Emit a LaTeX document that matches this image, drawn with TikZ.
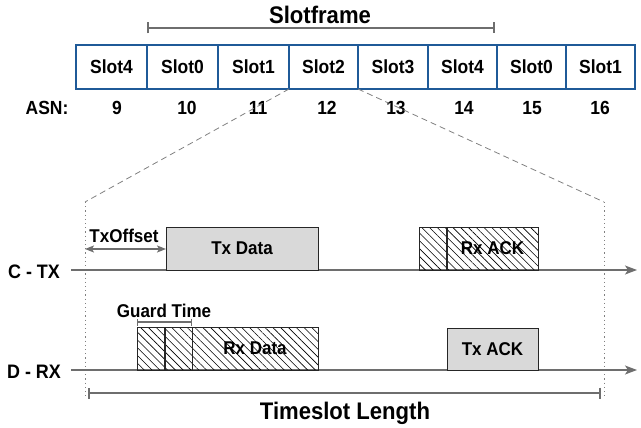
\documentclass[tikz,border=0pt]{standalone}
\usepackage{fontspec}
\setmainfont{Liberation Sans}[FakeStretch=0.92]
\usetikzlibrary{arrows.meta,patterns.meta}
\definecolor{slotblue}{RGB}{31,90,152}
\definecolor{boxgray}{RGB}{217,217,217}
\definecolor{axisgray}{RGB}{110,110,110}
\begin{document}
\begin{tikzpicture}[x=1pt,y=-1pt,
  lbl/.style={font=\bfseries\fontsize{18.5}{18.5}\selectfont, inner sep=0pt},
  numlbl/.style={font=\bfseries\fontsize{19}{19}\selectfont, inner sep=0pt},
  slot/.style={draw=slotblue, line width=1.8pt, fill=white, inner sep=0pt, outer sep=0pt, minimum height=44pt, font=\bfseries\fontsize{19}{19}\selectfont},
  graybox/.style={draw=black!85, line width=0.9pt, fill=boxgray, inner sep=0pt, outer sep=0pt, anchor=south west},
  hatchbox/.style={draw=black!85, line width=0.9pt, pattern={Lines[angle=-45,distance=5.5pt,line width=0.6pt]}, inner sep=0pt, outer sep=0pt, anchor=south west},
  axis/.style={draw=axisgray, line width=1.3pt, -{Stealth[length=12pt,width=9pt,inset=3pt]}},
  bracket/.style={draw=axisgray, line width=2pt, {Bar[width=11pt]}-{Bar[width=11pt]}},
  zoomline/.style={draw=gray, line width=0.8pt, dash pattern=on 6pt off 4pt},
  dotline/.style={draw=gray, line width=0.8pt, dash pattern=on 1.2pt off 3pt}]
\useasboundingbox (0,0) rectangle (641,428);

% slot row
\foreach \l/\r/\t [count=\i] in {76/147/Slot4, 147/218/Slot0, 218/289/Slot1, 289/358/Slot2, 358/428/Slot3, 428/497/Slot4, 497/566/Slot0, 566/635/Slot1} {
  \node[slot, minimum width={(\r-\l)*1pt}] (s\i) at ({(\l+\r)/2},67) {\t};
}
\foreach \x/\n [count=\i] in {117/9, 187/10, 258/11, 327/12, 396/13, 464/14, 532/15, 600/16} {
  \node[numlbl] (a\i) at (\x,108) {\n};
}
\node[numlbl] (asn) at (47,108) {ASN:};

% slotframe bracket
\coordinate (sfL) at (147,28);
\coordinate (sfR) at (495,28);
\draw[bracket] (sfL) -- (sfR);
\node[font=\bfseries\fontsize{24}{24}\selectfont, inner sep=0pt] (sf) at (320,15) {Slotframe};

% zoom lines
\coordinate (zL) at (85,202);
\coordinate (zR) at (604,202);
\coordinate (zLb) at (85,397);
\coordinate (zRb) at (604,397);
\draw[zoomline] (s4.south west) -- (zL);
\draw[zoomline] (s4.south east) -- (zR);
\draw[dotline] (zL) -- (zLb);
\draw[dotline] (zR) -- (zRb);

% axes
\coordinate (c0) at (71,270);
\coordinate (c1) at (637,270);
\coordinate (d0) at (71,370);
\coordinate (d1) at (637,370);
\draw[axis] (c0) -- (c1);
\draw[axis] (d0) -- (d1);
\node[font=\bfseries\fontsize{19.5}{19.5}\selectfont, inner sep=0pt] (ctx) at (34,272) {C - TX};
\node[font=\bfseries\fontsize{19.5}{19.5}\selectfont, inner sep=0pt] (drx) at (34,372) {D - RX};

% C-TX boxes
\node[graybox, minimum width=152pt, minimum height=43pt] (txdata) at (166,270) {};
\node[lbl] at (txdata.center) {Tx Data};
\node[hatchbox, minimum width=27pt, minimum height=43pt] (rxg) at (419,270) {};
\node[hatchbox, minimum width=91pt, minimum height=43pt] (rxack) at (447,270) {};
\node[lbl] at (rxack.center) {Rx ACK};

% TxOffset
\coordinate (toL) at (85,249);
\draw[draw=axisgray, line width=1.3pt, {Stealth[length=9pt,width=7pt,inset=2pt]}-{Stealth[length=9pt,width=7pt,inset=2pt]}] (toL) -- (txdata.west |- toL);
\node[lbl] (txoff) at (124,236) {TxOffset};

% D-RX boxes
\node[hatchbox, minimum width=27pt, minimum height=43pt] (g1) at (137,370) {};
\node[hatchbox, minimum width=27pt, minimum height=43pt] (g2) at (165,370) {};
\node[hatchbox, minimum width=126pt, minimum height=43pt] (rxdata) at (192,370) {};
\node[lbl] at (rxdata.center) {Rx Data};
\node[graybox, minimum width=91pt, minimum height=42pt] (txack) at (447,370) {};
\node[lbl] at (txack.center) {Tx ACK};

% guard time
\coordinate (gtL) at (137,322);
\coordinate (gtR) at (192,322);
\draw[draw=axisgray, line width=1.2pt, {Bar[width=7pt]}-{Bar[width=7pt]}] (gtL) -- (gtR);
\node[lbl] (gt) at (164,311) {Guard Time};

% timeslot length
\coordinate (tsL) at (88,393);
\coordinate (tsR) at (601,393);
\draw[bracket] (tsL) -- (tsR);
\node[font=\bfseries\fontsize{24}{24}\selectfont, inner sep=0pt] (tsl) at (345,413) {Timeslot Length};
\end{tikzpicture}
\end{document}
